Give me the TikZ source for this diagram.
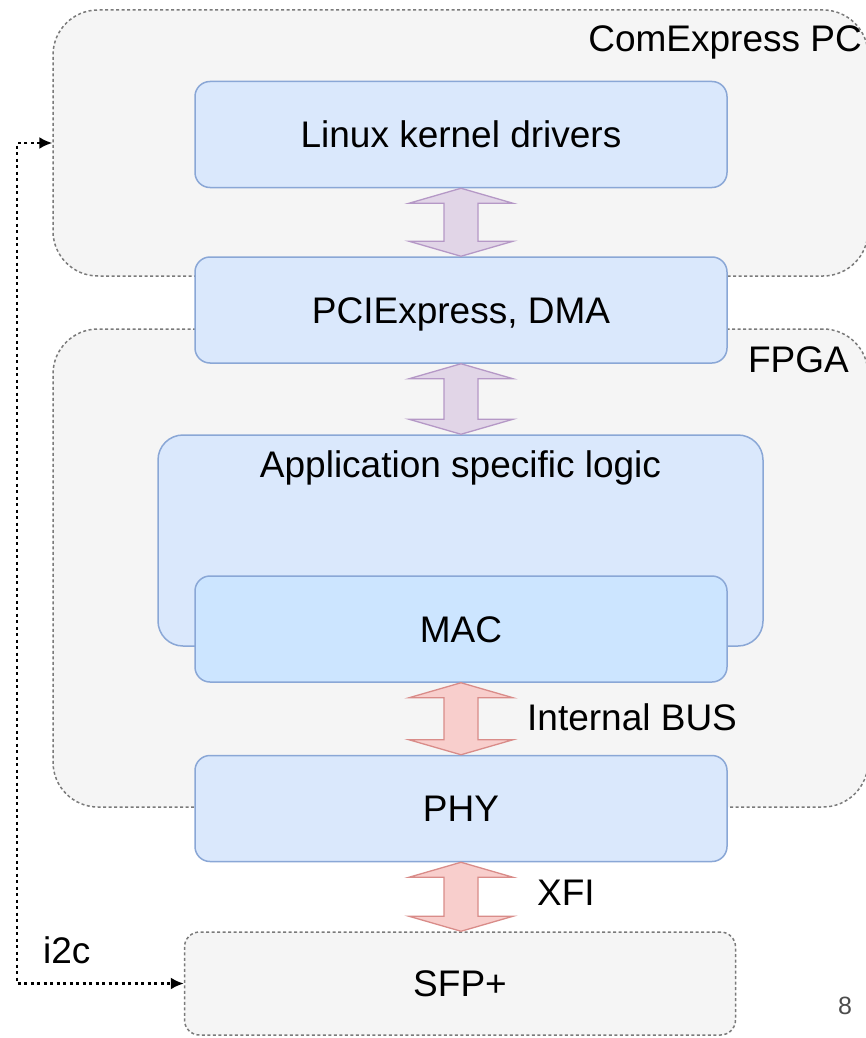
\documentclass[tikz,border=0pt]{standalone}
\usepackage{fontspec}
\setmainfont{Liberation Sans}
\usetikzlibrary{arrows.meta,calc}

\definecolor{boxfill}{HTML}{DAE8FC}
\definecolor{boxline}{HTML}{8AA7D6}
\definecolor{macfill}{HTML}{CCE5FF}
\definecolor{grpfill}{HTML}{F5F5F5}
\definecolor{grpline}{HTML}{7A7A7A}
\definecolor{pcifill}{HTML}{E1D5E7}
\definecolor{pciline}{HTML}{B598C6}
\definecolor{busfill}{HTML}{F8CECC}
\definecolor{busline}{HTML}{D98C89}

\tikzset{
  txt/.style={font=\fontsize{37}{44}\selectfont, inner sep=0pt},
  group/.style={draw=grpline, fill=grpfill, line width=1.5pt,
    dash pattern=on 3pt off 2.5pt, rounded corners=45pt, inner sep=0pt},
  block/.style={txt, draw=boxline, fill=boxfill, line width=1.5pt,
    rounded corners=15pt, minimum width=532pt, minimum height=106pt,
    text height=26.5pt, text depth=0pt},
  slot/.style={block, draw=grpline, fill=grpfill,
    dash pattern=on 3pt off 2.5pt, minimum width=551pt, minimum height=103pt},
  pcibus/.style={draw=pciline, fill=pcifill, line width=1.3pt, line join=miter},
  netbus/.style={draw=busline, fill=busfill, line width=1.3pt, line join=miter},
  i2cline/.style={draw=black, line width=2.2pt, dash pattern=on 3pt off 3.5pt,
    {Latex[length=13pt,width=12pt]}-{Latex[length=13pt,width=12pt]}},
}

% double-headed block arrow between the bottom of #2 and the top of #3
\newcommand\busarrow[3]{%
  \path[#1] let \p1=(#2.south), \p2=(#3.north) in
    (\x1,\y1) -- (\x1+52pt,\y1-15pt) -- (\x1+17pt,\y1-15pt)
    -- (\x1+17pt,\y2+15pt) -- (\x1+52pt,\y2+15pt) -- (\x1,\y2)
    -- (\x1-52pt,\y2+15pt) -- (\x1-17pt,\y2+15pt)
    -- (\x1-17pt,\y1-15pt) -- (\x1-52pt,\y1-15pt) -- cycle;}

\begin{document}
\begin{tikzpicture}[x=1pt, y=-1pt]
  \useasboundingbox (0,0) rectangle (866,1038);
  \fill[white] (0,0) rectangle (866,1038);
  \clip (0,0) rectangle (866,1038);

  % outer groups
  \node[group, minimum width=815pt, minimum height=266pt] (pc) at (460.5,143) {};
  \node[txt, anchor=east] (pclbl) at (862,42) {ComExpress PC};
  \node[group, minimum width=815pt, minimum height=478pt] (fpga) at (460.5,568) {};
  \node[txt, anchor=east] (fpgalbl) at (849,360) {FPGA};

  % stack of blocks
  \node[block] (drv) at (461,134.5) {Linux kernel drivers};
  \node[block] (pcie) at (461,310) {PCIExpress, DMA};
  \node[block, rounded corners=25pt, minimum width=605pt, minimum height=211pt]
    (app) at (460.5,540.5) {};
  \node[txt] (applbl) at (460.5,468) {Application specific logic};
  \node[block, fill=macfill] (mac) at (461,629) {MAC};
  \node[block] (phy) at (461,808.5) {PHY};
  \node[slot] (sfp) at (460,983.5) {SFP+};

  % bus arrows
  \busarrow{pcibus}{drv}{pcie}
  \busarrow{pcibus}{pcie}{app}
  \busarrow{netbus}{mac}{phy}
  \busarrow{netbus}{phy}{sfp}
  \node[txt, anchor=west] (buslbl) at (527,717) {Internal BUS};
  \node[txt, anchor=west] (xfilbl) at (537,893) {XFI};

  % i2c management link
  \coordinate (turn) at (17,143);
  \draw[i2cline] (pc.west) -- (turn) |- (sfp.west);
  \node[txt, anchor=west] (i2clbl) at (43,950) {i2c};

  % page number
  \node[font=\fontsize{25}{30}\selectfont, text=black!70, inner sep=0pt] (pgno) at (845,1006) {8};
\end{tikzpicture}
\end{document}
